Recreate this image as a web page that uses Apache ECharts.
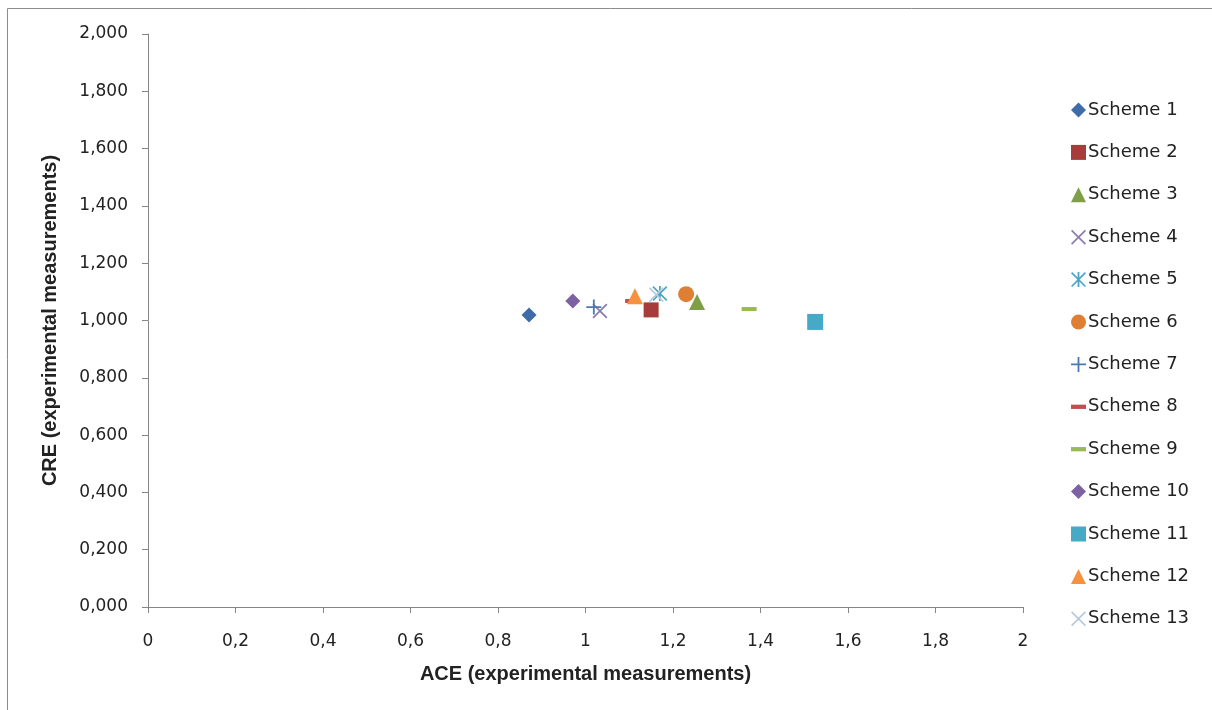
<!DOCTYPE html>
<html>
<head>
<meta charset="utf-8">
<script src="https://cdn.jsdelivr.net/npm/echarts@6/dist/echarts.min.js"></script>
<style>
  html, body { margin: 0; padding: 0; background: #fff; }
  #chart { width: 1212px; height: 710px; }
</style>
</head>
<body>
<div id="chart"></div>
<script>
// Scheme names and their measured ACE / CRE values
const schemes = ['Scheme 1', 'Scheme 2', 'Scheme 3', 'Scheme 4', 'Scheme 5', 'Scheme 6', 'Scheme 7',
                 'Scheme 8', 'Scheme 9', 'Scheme 10', 'Scheme 11', 'Scheme 12', 'Scheme 13'];
const aceValues = [0.871, 1.150, 1.255, 1.033, 1.170, 1.230, 1.019, 1.102, 1.374, 0.971, 1.525, 1.113, 1.162];
const creValues = [1.019, 1.037, 1.065, 1.033, 1.094, 1.092, 1.047, 1.068, 1.040, 1.068, 0.995, 1.085, 1.090];

// Marker shapes
const X_PATH = 'path://M0.8,0 L10,9.2 L9.2,10 L0,0.8 Z M9.2,0 L10,0.8 L0.8,10 L0,9.2 Z';
const PLUS_PATH = 'path://M4.4,0 H5.6 V10 H4.4 Z M0,4.4 H10 V5.6 H0 Z';
const STAR_PATH = 'path://M0.8,0 L10,9.2 L9.2,10 L0,0.8 Z M9.2,0 L10,0.8 L0.8,10 L0,9.2 Z M4.4,0 H5.6 V10 H4.4 Z';
const DASH_PATH = 'path://M0,0 H14 V4 H0 Z';

const markerStyles = [
  { symbol: 'diamond',  size: 15, color: '#3E6CA8' },
  { symbol: 'rect',     size: 15, color: '#A63D3A' },
  { symbol: 'triangle', size: 16, color: '#7E9E47' },
  { symbol: X_PATH,     size: 15, color: '#8A7AAE' },
  { symbol: STAR_PATH,  size: 15, color: '#4BA6C2' },
  { symbol: 'circle',   size: 16, color: '#DE7F33' },
  { symbol: PLUS_PATH,  size: 15, color: '#4A78B0' },
  { symbol: DASH_PATH,  size: [10, 4], color: '#C0504D' },
  { symbol: DASH_PATH,  size: [15, 4], color: '#98B954' },
  { symbol: 'diamond',  size: 15, color: '#7D62A3' },
  { symbol: 'rect',     size: 16, color: '#46A9C6' },
  { symbol: 'triangle', size: 16, color: '#F5913F' },
  { symbol: X_PATH,     size: 15, color: '#B8C8DE' }
];

const series = schemes.map((name, i) => ({
  name: name,
  type: 'scatter',
  symbol: markerStyles[i].symbol,
  symbolSize: markerStyles[i].size,
  itemStyle: { color: markerStyles[i].color, opacity: 1 },
  data: [[aceValues[i], creValues[i]]],
  z: 2 + i
}));

const axisFont = { fontFamily: 'DejaVu Sans', fontSize: 17, color: '#222' };
const titleFont = { fontFamily: 'Liberation Sans Narrow, Liberation Sans', fontSize: 20, fontWeight: 'bold', color: '#222' };

const chart = echarts.init(document.getElementById('chart'));
chart.setOption({
  backgroundColor: '#fff',
  animation: false,
  graphic: [{
    type: 'rect',
    shape: { x: 7.5, y: 8.5, width: 1400, height: 900 },
    style: { fill: 'none', stroke: '#8c8c8c', lineWidth: 1 },
    silent: true
  }],
  grid: { left: 148, right: 189, top: 34, bottom: 103 },
  xAxis: {
    type: 'value',
    min: 0, max: 2, interval: 0.2,
    name: 'ACE (experimental measurements)',
    nameLocation: 'middle',
    nameGap: 57,
    nameTextStyle: titleFont,
    axisLine: { show: true, onZero: false, lineStyle: { color: '#868686', width: 1 } },
    axisTick: { show: true, length: 6, lineStyle: { color: '#868686' } },
    splitLine: { show: false },
    axisLabel: Object.assign({ margin: 26, formatter: v => String(Math.round(v * 10) / 10).replace('.', ',') }, axisFont)
  },
  yAxis: {
    type: 'value',
    min: 0, max: 2, interval: 0.2,
    name: 'CRE (experimental measurements)',
    nameLocation: 'middle',
    nameGap: 88,
    nameTextStyle: titleFont,
    axisLine: { show: true, onZero: false, lineStyle: { color: '#868686', width: 1 } },
    axisTick: { show: true, length: 6, lineStyle: { color: '#868686' } },
    splitLine: { show: false },
    axisLabel: Object.assign({ margin: 20, formatter: v => v.toFixed(3).replace('.', ',') }, axisFont)
  },
  legend: {
    orient: 'vertical',
    left: 1066,
    top: 96,
    itemWidth: 15,
    itemHeight: 15,
    itemGap: 24.4,
    textStyle: { fontFamily: 'DejaVu Sans', fontSize: 18, color: '#222', lineHeight: 18, padding: [0, 0, 0, -3] },
    data: schemes
  },
  series: series
});
</script>
</body>
</html>
